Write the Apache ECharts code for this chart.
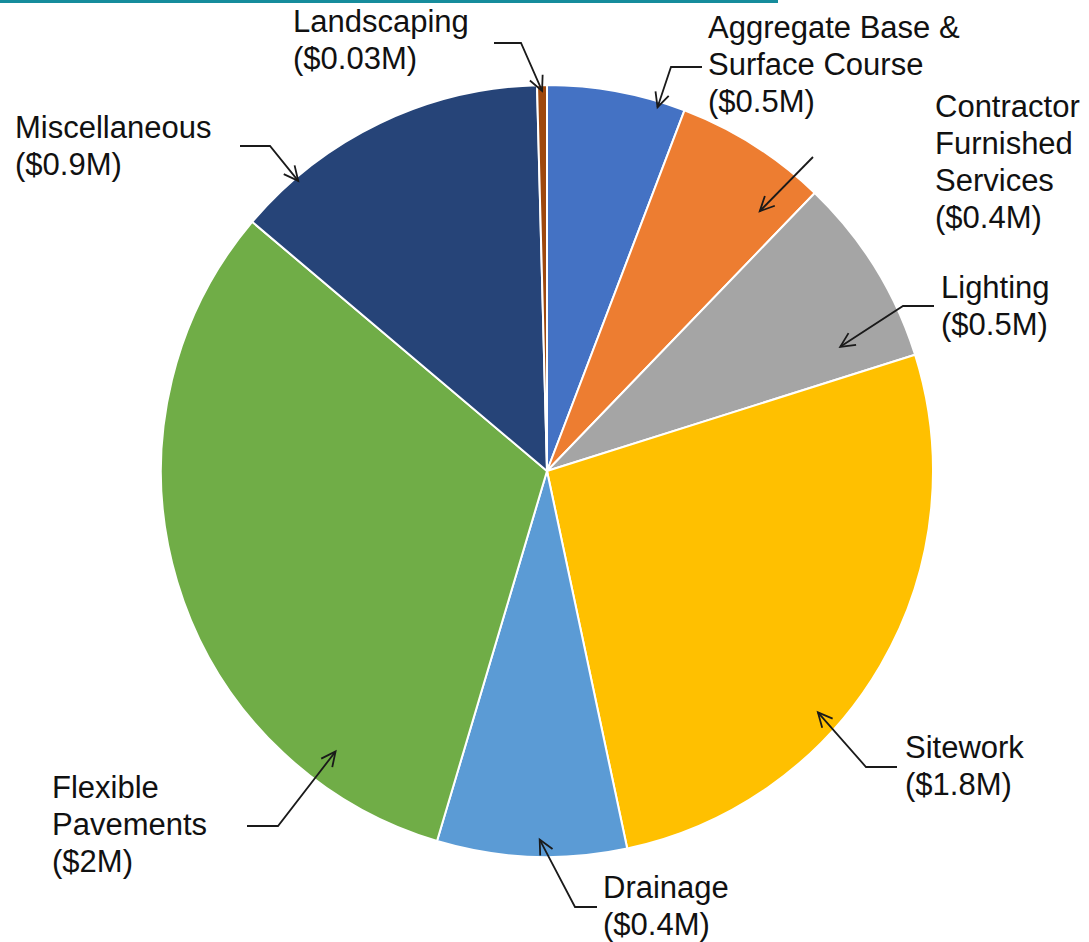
<!DOCTYPE html>
<html>
<head>
<meta charset="utf-8">
<script src="https://cdn.jsdelivr.net/npm/echarts@6/dist/echarts.min.js"></script>
<style>
  html, body { margin: 0; padding: 0; background: #ffffff; }
  #chart { width: 1089px; height: 942px; }
</style>
</head>
<body>
<div id="chart"></div>
<script>
// ---- Data (clockwise from 12 o'clock) ----
const categories = ['Aggregate Base & Surface Course', 'Contractor Furnished Services', 'Lighting', 'Sitework', 'Drainage', 'Flexible Pavements', 'Miscellaneous', 'Landscaping'];
const nameLines = [['Aggregate Base &', 'Surface Course'], ['Contractor', 'Furnished', 'Services'], ['Lighting'], ['Sitework'], ['Drainage'], ['Flexible', 'Pavements'], ['Miscellaneous'], ['Landscaping']];
const costLabels = ['$0.5M', '$0.4M', '$0.5M', '$1.8M', '$0.4M', '$2M', '$0.9M', '$0.03M'];
const costValues = [0.38, 0.42, 0.52, 1.74, 0.52, 2.07, 0.88, 0.027];
const sliceColors = ['#4472C4', '#ED7D31', '#A5A5A5', '#FFC000', '#5B9BD5', '#70AD47', '#264478', '#9E480E'];

// ---- Layout (annotation placement, pixels) ----
const CENTER = [547, 471];
const RADIUS = 386;
const labelPos = [[708, 9], [935, 88], [941, 269], [905, 729], [603, 869], [52, 769], [15, 109], [293, 3]];
// arrow: tail point, elbow point, tip (fraction along slice angle, fraction of radius)
const arrowTail = [[702, 67], [813, 157], [934, 306], [897, 767], [597, 907], [247, 826], [240, 146], [494, 43]];
const arrowElbow = [[671, 67], [813, 157], [903, 306], [866, 767], [575, 907], [278, 826], [270, 146], [521, 43]];
const tipAt = [[0.81, 0.985], [0.80, 0.87], [0.81, 0.825], [0.62, 0.94], [0.46, 0.955], [0.18, 0.91], [0.19, 0.99], [0.5, 0.985]];

const chart = echarts.init(document.getElementById('chart'), null, { renderer: 'svg' });

const FONT = '"Liberation Sans", Arial, Helvetica, sans-serif';

const option = {
  animation: false,
  backgroundColor: '#ffffff',
  series: [{
    type: 'pie',
    center: CENTER,
    radius: RADIUS,
    startAngle: 90,
    clockwise: true,
    avoidLabelOverlap: false,
    silent: true,
    z: 2,
    data: categories.map((c, i) => ({
      name: c,
      value: costValues[i],
      itemStyle: { color: sliceColors[i] }
    })),
    itemStyle: { borderColor: '#ffffff', borderWidth: 2 },
    label: {
      show: true,
      position: 'outside',
      color: '#111111',
      fontFamily: FONT,
      fontSize: 31,
      lineHeight: 37,
      align: 'left',
      formatter: p => nameLines[p.dataIndex].concat('(' + costLabels[p.dataIndex] + ')').join('\n')
    },
    labelLine: { show: false },
    labelLayout: p => ({
      x: labelPos[p.dataIndex][0],
      y: labelPos[p.dataIndex][1],
      align: 'left',
      verticalAlign: 'top'
    })
  }]
};
chart.setOption(option);

// ---- Arrows derived from the pie's own layout ----
function sliceLayouts() {
  try {
    const data = chart.getModel().getSeriesByIndex(0).getData();
    return categories.map((c, i) => data.getItemLayout(i));
  } catch (e) {
    const total = costValues.reduce((a, b) => a + b, 0);
    let a = -Math.PI / 2;
    return costValues.map(v => {
      const s = a; a += v / total * Math.PI * 2;
      return { cx: CENTER[0], cy: CENTER[1], r: RADIUS, startAngle: s, endAngle: a };
    });
  }
}

const layouts = sliceLayouts();
const graphics = [{
  type: 'rect',
  z: 100,
  shape: { x: 0, y: 0, width: 778, height: 3 },
  style: { fill: '#168C9C' },
  silent: true
}];
layouts.forEach((L, i) => {
  const ang = L.startAngle + tipAt[i][0] * (L.endAngle - L.startAngle);
  const rr = L.r * tipAt[i][1];
  const tip = [L.cx + rr * Math.cos(ang), L.cy + rr * Math.sin(ang)];
  const el = arrowElbow[i];
  const tl = arrowTail[i];
  graphics.push({
    type: 'polyline',
    z: 100,
    shape: { points: [tl, el, tip] },
    style: { stroke: '#1a1a1a', lineWidth: 1.8, fill: null },
    silent: true
  });
  const dx = tip[0] - el[0], dy = tip[1] - el[1];
  const d = Math.atan2(dy, dx);
  const len = 16, spread = 0.45;
  const h1 = [tip[0] - len * Math.cos(d - spread), tip[1] - len * Math.sin(d - spread)];
  const h2 = [tip[0] - len * Math.cos(d + spread), tip[1] - len * Math.sin(d + spread)];
  graphics.push({
    type: 'polyline',
    z: 100,
    shape: { points: [h1, tip, h2] },
    style: { stroke: '#1a1a1a', lineWidth: 1.8, fill: null },
    silent: true
  });
});
chart.setOption({ graphic: graphics });
</script>
</body>
</html>
